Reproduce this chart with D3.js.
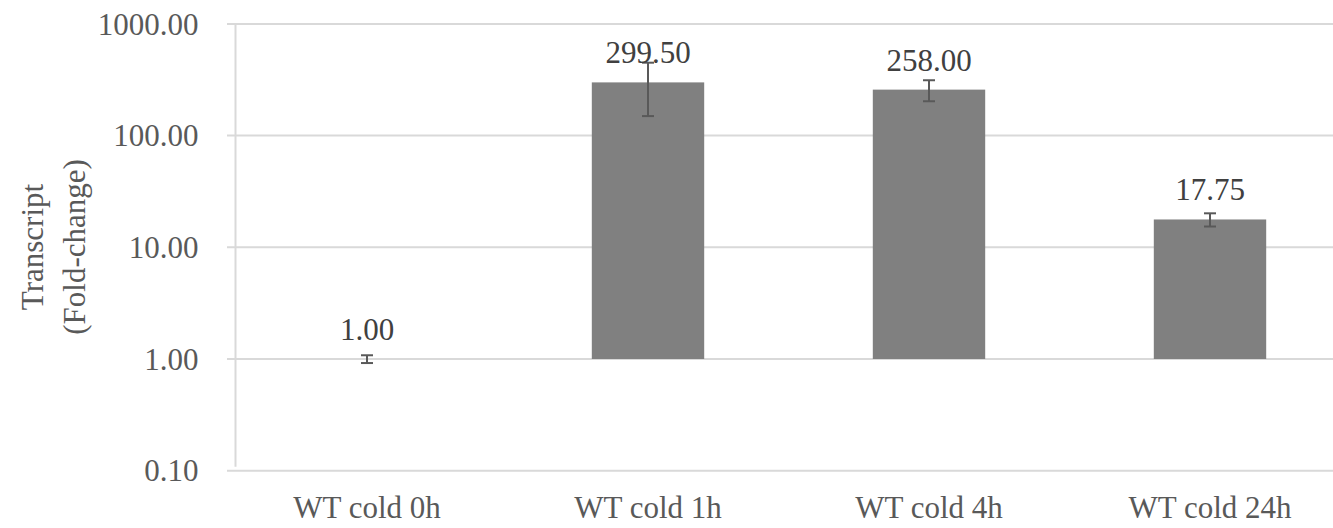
<!DOCTYPE html>
<html><head><meta charset="utf-8">
<script src="https://cdn.jsdelivr.net/npm/d3@7"></script>
<style>html,body{margin:0;padding:0;background:#fff;}svg{display:block;}</style>
</head><body>
<svg id="c" width="1333" height="528"></svg>
<script>
const categories = ["WT cold 0h", "WT cold 1h", "WT cold 4h", "WT cold 24h"];
const values = [1.00, 299.50, 258.00, 17.75];
const errors = [0.08, 150, 55, 2.4];
const labels = ["1.00", "299.50", "258.00", "17.75"];
const yTicks = [0.1, 1, 10, 100, 1000];
const yTickLabels = ["0.10", "1.00", "10.00", "100.00", "1000.00"];

const svg = d3.select("#c");
const font = "'Liberation Serif','Times New Roman',serif";
const W = 1333;

const x = d3.scaleBand().domain(categories).range([226.5, 1350.5]).paddingInner(0.6).paddingOuter(0.3);
const y = d3.scaleLog().domain([0.1, 1000]).range([470.7, 23.9]);

// gridlines
svg.append("g").selectAll("line").data(yTicks).join("line")
  .attr("x1", 227).attr("x2", W)
  .attr("y1", d => y(d)).attr("y2", d => y(d))
  .attr("stroke", "#d9d9d9").attr("stroke-width", 2);

// vertical axis line
svg.append("line").attr("x1", 235.5).attr("x2", 235.5)
  .attr("y1", y(1000)).attr("y2", y(0.1) - 4)
  .attr("stroke", "#d9d9d9").attr("stroke-width", 2);

// y tick labels via axis
const yAxis = d3.axisLeft(y).tickValues(yTicks)
  .tickFormat((d, i) => yTickLabels[i]).tickSize(0).tickPadding(0);
const ga = svg.append("g").attr("transform", "translate(198.5,0)").call(yAxis);
ga.select(".domain").remove();
ga.selectAll("text").attr("font-family", font).attr("font-size", 31)
  .attr("fill", "#595959").attr("dy", "0.33em");

// bars (baseline at 1)
svg.append("g").selectAll("rect").data(values).join("rect")
  .attr("x", (d, i) => x(categories[i]))
  .attr("width", x.bandwidth())
  .attr("y", d => Math.min(y(d), y(1)))
  .attr("height", d => Math.abs(y(1) - y(d)))
  .attr("fill", "#808080");

// error bars
const eg = svg.append("g").attr("stroke", "#595959").attr("stroke-width", 2);
values.forEach((v, i) => {
  const cx = x(categories[i]) + x.bandwidth() / 2;
  const yt = y(v + errors[i]), yb = y(v - errors[i]);
  eg.append("line").attr("x1", cx).attr("x2", cx).attr("y1", yt).attr("y2", yb);
  eg.append("line").attr("x1", cx - 6).attr("x2", cx + 6).attr("y1", yt).attr("y2", yt);
  eg.append("line").attr("x1", cx - 6).attr("x2", cx + 6).attr("y1", yb).attr("y2", yb);
});

// data labels
svg.append("g").selectAll("text").data(values).join("text")
  .attr("x", (d, i) => x(categories[i]) + x.bandwidth() / 2)
  .attr("y", d => y(d) - 19)
  .attr("text-anchor", "middle")
  .attr("font-family", font).attr("font-size", 31).attr("fill", "#404040")
  .text((d, i) => labels[i]);

// x axis labels
const xAxis = d3.axisBottom(x).tickSize(0).tickPadding(0);
const gx = svg.append("g").attr("transform", "translate(0,518)").call(xAxis);
gx.select(".domain").remove();
gx.selectAll("text").attr("font-family", font).attr("font-size", 31)
  .attr("fill", "#595959").attr("dy", 0);

// y title
const t = svg.append("text").attr("transform", "translate(43,247) rotate(-90)")
  .attr("text-anchor", "middle").attr("font-family", font).attr("font-size", 31).attr("fill", "#595959");
t.append("tspan").attr("x", 0).attr("y", 0).text("Transcript");
t.append("tspan").attr("x", 0).attr("y", 42).text("(Fold-change)");
</script>
</body></html>
